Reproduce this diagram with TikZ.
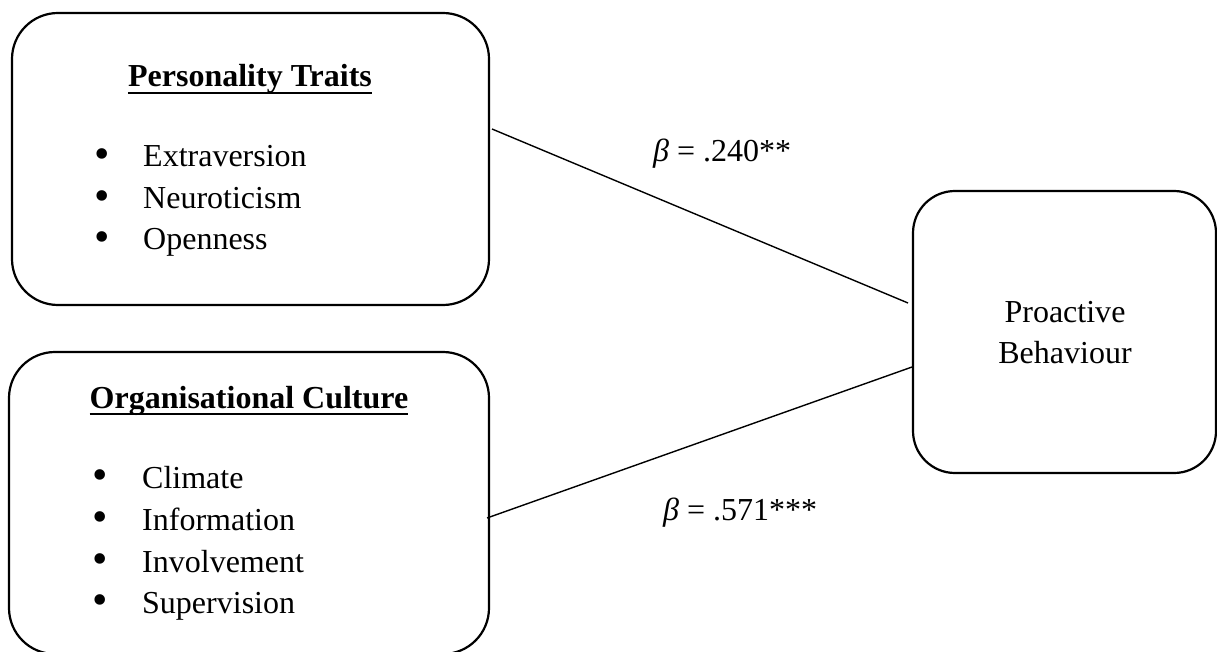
\documentclass[tikz,border=0pt]{standalone}
\usepackage{fontspec}
\setmainfont{Liberation Serif}
\begin{document}
\begin{tikzpicture}[x=1pt,y=-1pt,
  box/.style={draw=black, line width=2.2pt, rounded corners=46pt, inner sep=0pt, minimum width=#1},
  txt/.style={inner sep=0pt, font=\fontsize{32}{40}\selectfont},
  head/.style={txt, font=\fontsize{32}{40}\selectfont\bfseries, anchor=base},
  item/.style={txt, anchor=base west},
  bul/.style={inner sep=0pt, font=\fontsize{44}{44}\selectfont, anchor=center},
  conn/.style={line width=1.4pt},
  uline/.style={line width=1.8pt}]
\useasboundingbox (0,0) rectangle (1217,652);
\fill[white] (0,0) rectangle (1217,652);
% boxes
\node[box=477pt, minimum height=292pt] (pt) at (250.5,159) {};
\node[box=480pt, minimum height=302pt] (oc) at (249,503) {};
\node[box=303pt, minimum height=282pt, rounded corners=42pt] (pb) at (1064.5,332) {};
% box 1 text
\node[head] (h1) at (250,87) {Personality Traits};
\draw[uline] ([yshift=-5.7pt]h1.base west) -- ([yshift=-5.7pt]h1.base east);
\node[bul] (b11) at (102,158.7) {•};
\node[item] (i11) at (143,166.7) {Extraversion};
\node[bul] (b12) at (102,200.4) {•};
\node[item] (i12) at (143,208.4) {Neuroticism};
\node[bul] (b13) at (102,242) {•};
\node[item] (i13) at (143,250) {Openness};
% box 2 text
\node[head] (h2) at (249,408) {Organisational Culture};
\draw[uline] ([yshift=-5.7pt]h2.base west) -- ([yshift=-5.7pt]h2.base east);
\node[bul] (b21) at (100,480) {•};
\node[item] (i21) at (142,488) {Climate};
\node[bul] (b22) at (100,522) {•};
\node[item] (i22) at (142,530) {Information};
\node[bul] (b23) at (100,564) {•};
\node[item] (i23) at (142,572) {Involvement};
\node[bul] (b24) at (100,605) {•};
\node[item] (i24) at (142,613) {Supervision};
% box 3 text
\node[txt, anchor=base] (p1) at (1065,322) {Proactive};
\node[txt, anchor=base] (p2) at (1065,363) {Behaviour};
% connectors
\coordinate (c1s) at (492,129);
\coordinate (c1e) at (908,303);
\coordinate (c2s) at (487,518);
\coordinate (c2e) at (912,367);
\draw[conn] (c1s) -- (c1e);
\draw[conn] (c2s) -- (c2e);
% labels
\node[item] (l1) at (653,162) {{\itshape β} = .240**};
\node[item] (l2) at (663,520) {{\itshape β} = .571***};
\end{tikzpicture}
\end{document}
